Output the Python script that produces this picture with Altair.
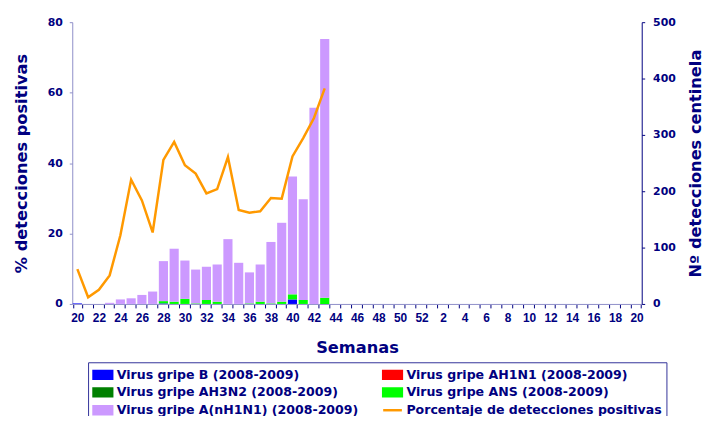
import altair as alt
import pandas as pd

# Semanas epidemiológicas (eje X): semana 20 a 52 y 1 a 20
SEMANAS = [20, 21, 22, 23, 24, 25, 26, 27, 28, 29, 30, 31, 32, 33, 34, 35, 36,
           37, 38, 39, 40, 41, 42, 43, 44, 45, 46, 47, 48, 49, 50, 51, 52,
           1, 2, 3, 4, 5, 6, 7, 8, 9, 10, 11, 12, 13, 14, 15, 16, 17, 18, 19, 20]
ANIOS = [2009] * 33 + [2010] * 20

# Semanas con datos (20 a 43)
VIRUS_B = [1, 0, 0, 0, 0, 0, 0, 0, 1, 0, 0, 0, 0, 0, 0, 0, 0, 0, 0, 0, 8, 0, 0, 0]
VIRUS_AH1N1 = [0, 0, 0, 0, 0, 0, 0, 0, 0, 0, 0, 0, 0, 0, 0, 0, 0, 0, 0, 0, 0, 0, 0, 0]
VIRUS_AH3N2 = [0, 0, 0, 0, 0, 0, 0, 0, 0, 0, 0, 0, 0, 0, 0, 0, 0, 0, 0, 0, 0, 0, 0, 0]
VIRUS_ANS = [0, 0, 0, 0, 0, 0, 0, 0, 4, 4, 9, 1, 7, 4, 0, 0, 1, 4, 1, 4, 9, 7, 0, 11]
VIRUS_ANH1N1 = [0, 0, 0, 2, 8, 10, 16, 22, 71, 94, 68, 60, 59, 66, 115, 73, 55, 66,
                109, 140, 209, 179, 348, 459]
PORCENTAJE = [9.9, 1.9, 4.0, 8.1, 19.5, 35.3, 29.4, 20.3, 40.9, 46.0, 39.4, 37.0,
              31.4, 32.6, 41.7, 26.7, 25.9, 26.3, 30.1, 29.9, 41.9, 47.1, 52.8, 61.2]

# orden de apilado (de abajo arriba)
SERIES = [
    "Virus gripe B (2008-2009)",
    "Virus gripe AH1N1 (2008-2009)",
    "Virus gripe AH3N2 (2008-2009)",
    "Virus gripe ANS (2008-2009)",
    "Virus gripe A(nH1N1)  (2008-2009)",
]
LINEA = "Porcentaje de detecciones positivas"

# orden de la leyenda (se rellena por columnas)
LEYENDA_ORDEN = [SERIES[0], SERIES[2], SERIES[4], SERIES[1], SERIES[3], LINEA]
LEYENDA_COLORES = ["#0000FF", "#008000", "#CC99FF", "#FF0000", "#00FF00", "#FF9900"]

NAVY = "#000080"
FONT = "DejaVu Sans"

claves = [f"{a}-{s}" for a, s in zip(ANIOS, SEMANAS)]

filas = []
for i, valores in enumerate(zip(VIRUS_B, VIRUS_AH1N1, VIRUS_AH3N2, VIRUS_ANS, VIRUS_ANH1N1)):
    for orden, (serie, n) in enumerate(zip(SERIES, valores)):
        filas.append({"sem": claves[i], "serie": serie, "n": n, "orden": orden})
df_barras = pd.DataFrame(filas)

df_linea = pd.DataFrame({
    "sem": claves[:len(PORCENTAJE)],
    "pct": PORCENTAJE,
    "serie": LINEA,
})

escala_x = alt.Scale(domain=claves, paddingInner=0.15, paddingOuter=0.05)
escala_color = alt.Scale(domain=LEYENDA_ORDEN, range=LEYENDA_COLORES)

eje_x = alt.Axis(
    title="Semanas",
    labelExpr="toNumber(split(datum.value, '-')[1]) % 2 == 0 ? split(datum.value, '-')[1] : ''",
    labelAngle=0,
    labelFont="Liberation Sans",
    labelFontWeight="bold",
    labelFontSize=12,
    labelColor=NAVY,
    labelPadding=5,
    tickBand="extent",
    tickSize=4,
    tickColor=NAVY,
    domainColor="#8F8FC8",
    titleFont=FONT,
    titleFontSize=16.4,
    titleFontWeight="bold",
    titleColor=NAVY,
    titlePadding=16,
)

# símbolos: rectángulo para las barras, trazo para la línea
es_linea = f"datum.value == '{LINEA}'"
leyenda = alt.Legend(
    title=None,
    orient="none",
    legendX=16,
    legendY=344,
    columns=2,
    columnPadding=15,
    rowPadding=-1,
    padding=4,
    strokeColor="#33339A",
    fillColor="white",
    labelFont=FONT,
    labelFontWeight="bold",
    labelFontSize=12.7,
    labelColor=NAVY,
    labelLimit=320,
    labelOffset=8,
    symbolSize=196,
    symbolOpacity=1,
    symbolType=alt.ExprRef(f"{es_linea} ? 'M-1,0H1.7' : 'M-1,-0.57H1.7V0.57H-1Z'"),
    symbolStrokeColor=alt.ExprRef(f"{es_linea} ? '#FF9900' : 'transparent'"),
    symbolStrokeWidth=2.5,
)

barras = (
    alt.Chart(df_barras)
    .mark_bar()
    .encode(
        x=alt.X("sem:N", scale=escala_x, axis=eje_x),
        y=alt.Y(
            "n:Q",
            stack="zero",
            scale=alt.Scale(domain=[0, 500], nice=False),
            axis=alt.Axis(
                orient="right",
                values=[0, 100, 200, 300, 400, 500],
                title="Nº detecciones centinela",
                titleAngle=270,
                titleFont=FONT,
                titleFontSize=16.4,
                titleFontWeight="bold",
                titleColor=NAVY,
                titlePadding=29,
                labelFont=FONT,
                labelFontWeight="bold",
                labelFontSize=11,
                labelColor=NAVY,
                labelPadding=8,
                tickSize=3,
                tickColor=NAVY,
                domainColor=NAVY,
                grid=False,
            ),
        ),
        color=alt.Color("serie:N", scale=escala_color, legend=leyenda),
        order=alt.Order("orden:Q"),
    )
)

linea = (
    alt.Chart(df_linea)
    .mark_line(strokeWidth=2.5)
    .encode(
        x=alt.X("sem:N", scale=escala_x, axis=eje_x),
        y=alt.Y(
            "pct:Q",
            scale=alt.Scale(domain=[0, 80], nice=False),
            axis=alt.Axis(
                orient="left",
                values=[0, 20, 40, 60, 80],
                title="% detecciones positivas",
                titleFont=FONT,
                titleFontSize=16.4,
                titleFontWeight="bold",
                titleColor=NAVY,
                titlePadding=18,
                labelFont=FONT,
                labelFontWeight="bold",
                labelFontSize=11,
                labelColor=NAVY,
                labelPadding=7,
                tickSize=3,
                tickColor="#8F8FC8",
                domainColor="#8F8FC8",
                grid=False,
            ),
        ),
        color=alt.Color("serie:N", scale=escala_color, legend=leyenda),
    )
)

chart = (
    alt.layer(barras, linea)
    .resolve_scale(y="independent")
    .properties(
        width=576,
        height=285,
        padding={"left": 65, "top": 12, "right": 63, "bottom": 111},
        autosize=alt.AutoSizeParams(type="none"),
    )
    .configure_view(stroke=None)
)

chart.save("out.html", embed_options={"renderer": "svg", "actions": False})
